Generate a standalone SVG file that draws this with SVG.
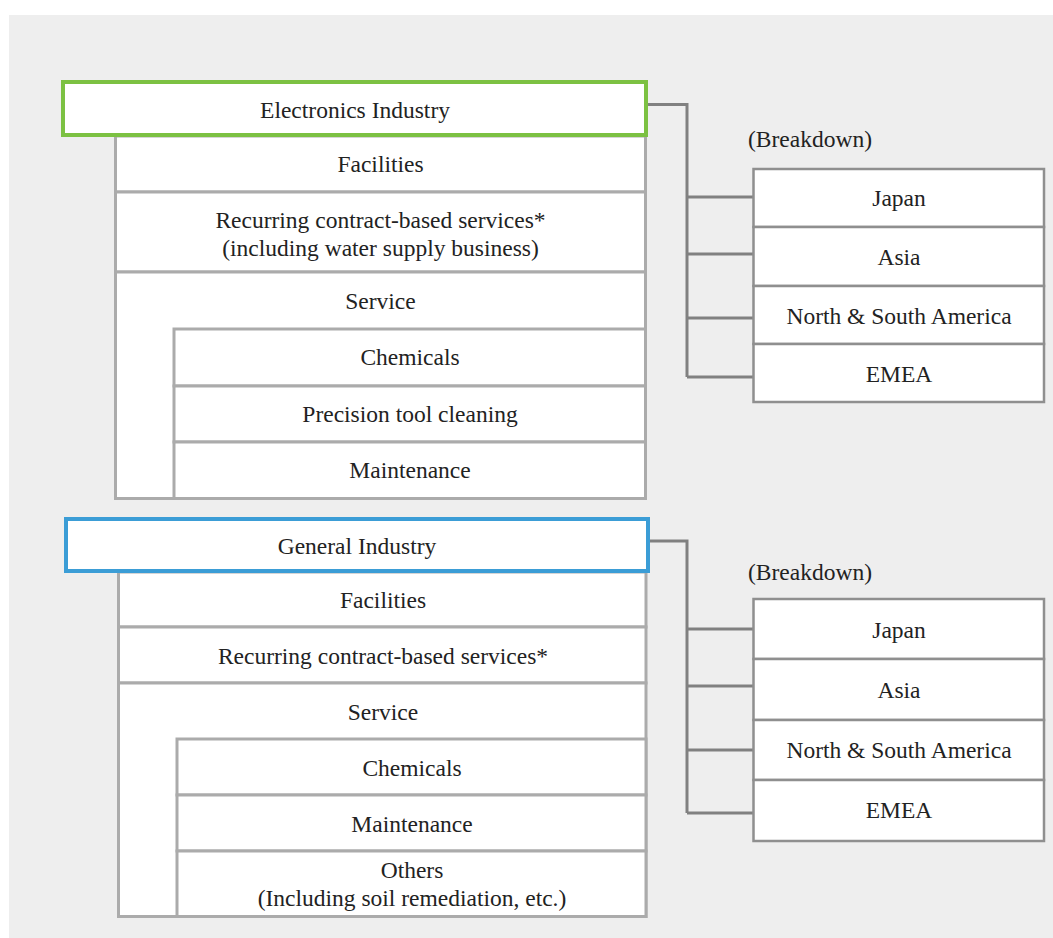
<svg xmlns="http://www.w3.org/2000/svg" width="1053" height="938" viewBox="0 0 1053 938">
<style>
.t{font-family:'Liberation Serif','Times New Roman',serif;font-size:23.5px;fill:#222;text-anchor:middle}
.tl{font-family:'Liberation Serif','Times New Roman',serif;font-size:23.5px;fill:#222}
.cell{fill:#fff;stroke:#ababab;stroke-width:3}
.reg{fill:#fff;stroke:#8f8f8f;stroke-width:2.5}
.conn{fill:none;stroke:#808080;stroke-width:3}
</style>
<rect x="0" y="0" width="1053" height="938" fill="#fff"/>
<rect x="9" y="15" width="1044" height="923" fill="#eeeeee"/>

<g id="connectors">
<path class="conn" d="M648 104.5H687V377M687 197H753M687 254H753M687 318H753M687 377H753"/>
<path class="conn" d="M650 541H687V813M687 629H753M687 686H753M687 750H753M687 813H753"/>
</g>

<!-- Electronics column -->
<g id="e-facilities"><rect class="cell" x="115.5" y="136" width="530" height="56"/><text class="t" x="380.5" y="172">Facilities</text></g>
<g id="e-recurring"><rect class="cell" x="115.5" y="192" width="530" height="80"/><text class="t" x="380.5" y="228">Recurring contract-based services*</text><text class="t" x="380.5" y="256">(including water supply business)</text></g>
<g id="e-service"><rect class="cell" x="115.5" y="272" width="530" height="226.5"/><text class="t" x="380.5" y="309">Service</text></g>
<g id="e-chemicals"><rect class="cell" x="174" y="329" width="471.5" height="57"/><text class="t" x="410" y="365">Chemicals</text></g>
<g id="e-precision"><rect class="cell" x="174" y="386" width="471.5" height="56"/><text class="t" x="410" y="422">Precision tool cleaning</text></g>
<g id="e-maintenance"><rect class="cell" x="174" y="442" width="471.5" height="56.5"/><text class="t" x="410" y="478">Maintenance</text></g>
<g id="electronics"><rect x="63" y="82" width="583" height="53" fill="#fff" stroke="#7cc142" stroke-width="4"/><text class="t" x="355" y="118">Electronics Industry</text></g>

<!-- Electronics breakdown -->
<g id="e-breakdown"><text class="tl" x="748" y="147">(Breakdown)</text></g>
<g id="e-japan"><rect class="reg" x="753.5" y="169" width="290.5" height="58"/><text class="t" x="899" y="206">Japan</text></g>
<g id="e-asia"><rect class="reg" x="753.5" y="227" width="290.5" height="59"/><text class="t" x="899" y="265">Asia</text></g>
<g id="e-nsa"><rect class="reg" x="753.5" y="286" width="290.5" height="58"/><text class="t" x="899" y="324">North &amp; South America</text></g>
<g id="e-emea"><rect class="reg" x="753.5" y="344" width="290.5" height="58"/><text class="t" x="899" y="382">EMEA</text></g>

<!-- General column -->
<g id="g-facilities"><rect class="cell" x="118.5" y="572" width="527.5" height="55"/><text class="t" x="383" y="608">Facilities</text></g>
<g id="g-recurring"><rect class="cell" x="118.5" y="627" width="527.5" height="56"/><text class="t" x="383" y="664">Recurring contract-based services*</text></g>
<g id="g-service"><rect class="cell" x="118.5" y="683" width="527.5" height="233.5"/><text class="t" x="383" y="720">Service</text></g>
<g id="g-chemicals"><rect class="cell" x="177" y="739" width="469" height="56"/><text class="t" x="412" y="776">Chemicals</text></g>
<g id="g-maintenance"><rect class="cell" x="177" y="795" width="469" height="56"/><text class="t" x="412" y="832">Maintenance</text></g>
<g id="g-others"><rect class="cell" x="177" y="851" width="469" height="65.5"/><text class="t" x="412" y="878">Others</text><text class="t" x="412" y="906">(Including soil remediation, etc.)</text></g>
<g id="general"><rect x="66" y="519" width="582" height="52" fill="#fff" stroke="#3b9dd6" stroke-width="4"/><text class="t" x="357" y="554">General Industry</text></g>

<!-- General breakdown -->
<g id="g-breakdown"><text class="tl" x="748" y="580">(Breakdown)</text></g>
<g id="g-japan"><rect class="reg" x="753.5" y="599" width="290.5" height="60"/><text class="t" x="899" y="638">Japan</text></g>
<g id="g-asia"><rect class="reg" x="753.5" y="659" width="290.5" height="61"/><text class="t" x="899" y="698">Asia</text></g>
<g id="g-nsa"><rect class="reg" x="753.5" y="720" width="290.5" height="60"/><text class="t" x="899" y="758">North &amp; South America</text></g>
<g id="g-emea"><rect class="reg" x="753.5" y="780" width="290.5" height="61"/><text class="t" x="899" y="818">EMEA</text></g>
</svg>
